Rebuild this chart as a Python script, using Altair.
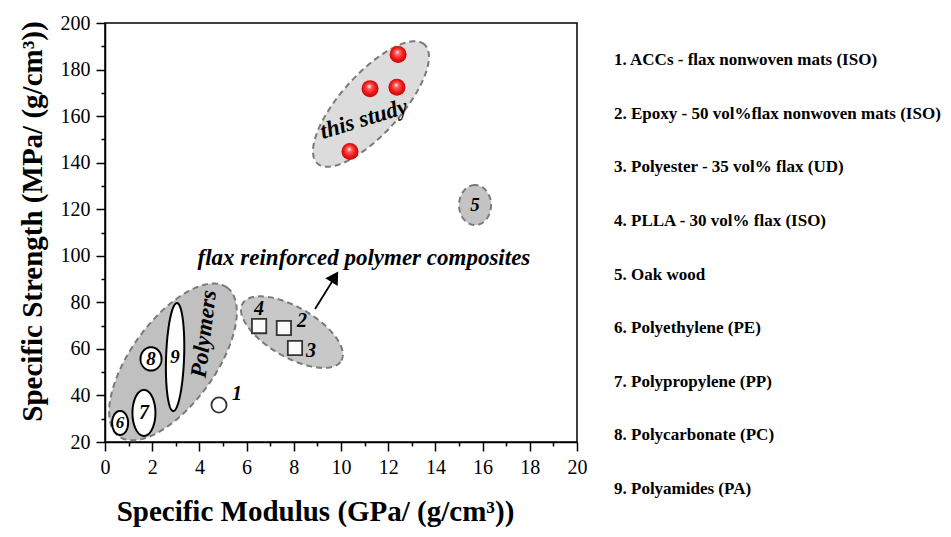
import numpy as np
import pandas as pd
import altair as alt

# ---------------- data ----------------
# this study (red spheres)
study_x = [12.42, 11.23, 12.37, 10.38]
study_y = [186.5, 171.8, 172.4, 144.8]

# literature composites (open squares) 2,3,4
comp_x = [7.58, 8.05, 6.53]
comp_y = [69.0, 60.4, 69.8]

# ACCs (open circle) 1
acc_x = [4.83]
acc_y = [35.9]

# number labels
lbl_text = ["1", "2", "3", "4", "5", "6", "7", "8", "9"]
lbl_x = [5.59, 8.35, 8.73, 6.53, 15.68, 0.64, 1.65, 1.95, 2.97]
lbl_y = [40.8, 72.0, 59.3, 77.3, 121.8, 28.0, 32.5, 55.7, 56.5]
lbl_size = [20, 20, 20, 20, 19, 17, 20, 19, 19]

# ellipses (center in data units, semi-axes in px, tilt in degrees)
gray_names = ["this study", "oak", "polymers", "composites"]
gray_cx = [11.27, 15.68, 2.88, 7.92]
gray_cy = [165.2, 121.8, 54.4, 67.2]
gray_a = [80, 20, 92, 57]
gray_b = [30, 16, 42, 25]
gray_t = [48, 90, 54, -30]
gray_fill = ["#dcdcdc", "#c4c4c4", "#c0c0c0", "#c8c8c8"]

white_names = ["PE", "PP", "PC", "PA"]
white_cx = [0.64, 1.65, 1.95, 2.97]
white_cy = [28.2, 32.5, 55.7, 56.5]
white_a = [12, 23, 11.7, 54]
white_b = [8, 11.5, 10.5, 9]
white_t = [90, 90, 90, 88]

ann_text = ["this study", "Polymers", "flax reinforced polymer composites"]
ann_x = [10.97, 4.19, 10.97]
ann_y = [158.7, 66.4, 99.0]
ann_angle = [343, 277, 0]
ann_size = [23, 23, 23]

arrow_x = [8.90, 9.62]
arrow_y = [77.1, 88.8]
head_x = [9.74]
head_y = [91.0]

legend_items = [
    "1. ACCs - flax nonwoven mats (ISO)",
    "2. Epoxy - 50 vol%flax nonwoven mats (ISO)",
    "3. Polyester - 35 vol% flax (UD)",
    "4. PLLA - 30 vol% flax (ISO)",
    "5. Oak wood",
    "6. Polyethylene (PE)",
    "7. Polypropylene (PP)",
    "8. Polycarbonate (PC)",
    "9. Polyamides (PA)",
]

x_major = [0, 2, 4, 6, 8, 10, 12, 14, 16, 18, 20]
x_minor = [1, 3, 5, 7, 9, 11, 13, 15, 17, 19]
y_major = [20, 40, 60, 80, 100, 120, 140, 160, 180, 200]
y_minor = [30, 50, 70, 90, 110, 130, 150, 170, 190]

# ---------------- geometry helpers ----------------
W, H = 472, 419
XD = [0, 20]
YD = [20, 200]
sx = W / (XD[1] - XD[0])
sy = H / (YD[1] - YD[0])
FONT = "Liberation Serif"


def ellipse_tables(names, cx, cy, a, b, t, fills=None):
    area_rows, line_rows = [], []
    for k, name in enumerate(names):
        th = np.radians(t[k])
        c, s = np.cos(th), np.sin(th)
        A = c * c / a[k] ** 2 + s * s / b[k] ** 2
        B = 2 * c * s * (1 / a[k] ** 2 - 1 / b[k] ** 2)
        C = s * s / a[k] ** 2 + c * c / b[k] ** 2
        hw = np.sqrt(a[k] ** 2 * c * c + b[k] ** 2 * s * s)
        for phi in np.linspace(np.pi, 0, 161):
            u = hw * np.cos(phi)
            disc = max(B * B * u * u - 4 * C * (A * u * u - 1), 0)
            v1 = (-B * u - np.sqrt(disc)) / (2 * C)
            v2 = (-B * u + np.sqrt(disc)) / (2 * C)
            area_rows.append({
                "name": name,
                "x": cx[k] + u / sx,
                "ylo": cy[k] + v1 / sy,
                "yhi": cy[k] + v2 / sy,
                "fill": fills[k] if fills else "#ffffff",
            })
        for i, tt in enumerate(np.linspace(0, 2 * np.pi, 241)):
            u = a[k] * np.cos(tt) * c - b[k] * np.sin(tt) * s
            v = a[k] * np.cos(tt) * s + b[k] * np.sin(tt) * c
            line_rows.append({"name": name, "i": i,
                              "x": cx[k] + u / sx, "y": cy[k] + v / sy})
    return pd.DataFrame(area_rows), pd.DataFrame(line_rows)


gray_area, gray_line = ellipse_tables(gray_names, gray_cx, gray_cy, gray_a, gray_b, gray_t, gray_fill)
white_area, white_line = ellipse_tables(white_names, white_cx, white_cy, white_a, white_b, white_t)

xs = alt.Scale(domain=XD, nice=False, zero=False)
ys = alt.Scale(domain=YD, nice=False, zero=False)


def X(field, **kw):
    return alt.X(field, type="quantitative", scale=xs, axis=None, **kw)


def Y(field, **kw):
    return alt.Y(field, type="quantitative", scale=ys, axis=None, **kw)


# axes layers
axis_df = pd.DataFrame({"x": [0], "y": [20]})
major_axes = alt.Chart(axis_df).mark_point(opacity=0).encode(
    x=alt.X("x:Q", scale=xs, axis=alt.Axis(
        values=x_major, orient="bottom", tickSize=9, tickWidth=1.5, domainWidth=1.5,
        domainColor="black", tickColor="black", labelFont=FONT, labelFontSize=20,
        labelColor="black", labelPadding=6, labelFlush=False, grid=False,
        title="Specific Modulus (GPa/ (g/cm³))", titleFont=FONT, titleFontSize=29,
        titleFontWeight="bold", titleColor="black", titlePadding=20,
        titleX=210, titleAlign="center")),
    y=alt.Y("y:Q", scale=ys, axis=alt.Axis(
        values=y_major, orient="left", tickSize=9, tickWidth=1.5, domainWidth=1.5,
        domainColor="black", tickColor="black", labelFont=FONT, labelFontSize=20,
        labelColor="black", labelPadding=6, labelFlush=False, grid=False,
        title="Specific Strength (MPa/ (g/cm³))", titleFont=FONT, titleFontSize=29,
        titleFontWeight="bold", titleColor="black", titlePadding=13,
        titleY=198, titleAlign="center")),
)
minor_axes = alt.Chart(axis_df).mark_point(opacity=0).encode(
    x=alt.X("x:Q", scale=xs, axis=alt.Axis(
        values=x_minor, orient="bottom", tickSize=4, tickWidth=1.5, domain=False,
        tickColor="black", labels=False, grid=False, title=None)),
    y=alt.Y("y:Q", scale=ys, axis=alt.Axis(
        values=y_minor, orient="left", tickSize=4, tickWidth=1.5, domain=False,
        tickColor="black", labels=False, grid=False, title=None)),
)

gray_fill_layer = alt.Chart(gray_area).mark_area(opacity=1).encode(
    x=X("x"), y=Y("ylo"), y2="yhi",
    fill=alt.Fill("fill:N", scale=None), detail="name:N")
gray_outline = alt.Chart(gray_line).mark_line(
    color="#7a7a7a", strokeWidth=2, strokeDash=[6, 4]).encode(
    x=X("x"), y=Y("y"), order="i:Q", detail="name:N")

white_fill_layer = alt.Chart(white_area).mark_area(opacity=1, color="white").encode(
    x=X("x"), y=Y("ylo"), y2="yhi", detail="name:N")
white_outline = alt.Chart(white_line).mark_line(color="black", strokeWidth=2).encode(
    x=X("x"), y=Y("y"), order="i:Q", detail="name:N")

sphere_grad = alt.Gradient(
    gradient="radial",
    stops=[alt.GradientStop(offset=0, color="#ffffff"),
           alt.GradientStop(offset=0.25, color="#ff6060"),
           alt.GradientStop(offset=0.6, color="#f01c1c"),
           alt.GradientStop(offset=1, color="#c00000")],
    x1=0.45, y1=0.35, r1=0, x2=0.5, y2=0.5, r2=0.55)
study = alt.Chart(pd.DataFrame({"x": study_x, "y": study_y})).mark_point(
    shape="circle", filled=True, size=290, fill=sphere_grad, opacity=1, strokeWidth=0).encode(
    x=X("x"), y=Y("y"))

comps = alt.Chart(pd.DataFrame({"x": comp_x, "y": comp_y})).mark_point(
    shape="square", size=205, filled=True, fill="#fafafa", stroke="#333333",
    strokeWidth=1.8, opacity=1).encode(x=X("x"), y=Y("y"))

accs = alt.Chart(pd.DataFrame({"x": acc_x, "y": acc_y})).mark_point(
    shape="circle", size=230, filled=False, color="#333333", strokeWidth=1.8,
    opacity=1).encode(x=X("x"), y=Y("y"))

arrow_line = alt.Chart(pd.DataFrame({"x": arrow_x, "y": arrow_y, "i": [0, 1]})).mark_line(
    color="black", strokeWidth=1.8).encode(x=X("x"), y=Y("y"), order="i:Q")
arrow_head = alt.Chart(pd.DataFrame({"x": head_x, "y": head_y})).mark_point(
    shape="triangle-up", size=210, filled=True, color="black", opacity=1, angle=32).encode(
    x=X("x"), y=Y("y"))

labels = alt.Chart(pd.DataFrame({"t": lbl_text, "x": lbl_x, "y": lbl_y, "s": lbl_size})).mark_text(
    font=FONT, fontStyle="italic", fontWeight="bold", color="black",
    align="center", baseline="middle").encode(
    x=X("x"), y=Y("y"), text="t:N", size=alt.Size("s:Q", scale=None, legend=None))

ann_layers = []
for k in range(len(ann_text)):
    ann_layers.append(
        alt.Chart(pd.DataFrame({"t": [ann_text[k]], "x": [ann_x[k]], "y": [ann_y[k]]})).mark_text(
            font=FONT, fontStyle="italic", fontWeight="bold", color="black",
            fontSize=ann_size[k], angle=ann_angle[k], align="center", baseline="middle").encode(
            x=X("x"), y=Y("y"), text="t:N"))

plot = alt.layer(
    gray_fill_layer, gray_outline, white_fill_layer, white_outline,
    major_axes, minor_axes,
    arrow_line, arrow_head, comps, accs, study, labels, *ann_layers,
).resolve_axis(x="independent", y="independent").properties(width=W, height=H)

# legend column: rows evenly spaced, first row 0.69 step below top
n_leg = len(legend_items)
legend_df = pd.DataFrame({"t": legend_items, "k": list(range(n_leg))})
legend = alt.Chart(legend_df).mark_text(
    font=FONT, fontWeight="bold", fontSize=17, color="black", align="left",
    baseline="middle").encode(
    x=alt.value(0),
    y=alt.Y("k:Q", axis=None,
            scale=alt.Scale(domain=[-0.69, n_leg - 1 + 0.69], reverse=True, nice=False, zero=False)),
    text="t:N",
).properties(width=315, height=503, view=alt.ViewBackground(stroke="transparent"))

chart = alt.hconcat(plot, legend, spacing=25).properties(
    padding={"left": 9, "top": 4, "right": 0, "bottom": 0}
).configure_view(stroke="black", strokeWidth=1.5).configure_concat(spacing=25)

chart.save("out.html", embed_options={"renderer": "svg", "actions": False})
